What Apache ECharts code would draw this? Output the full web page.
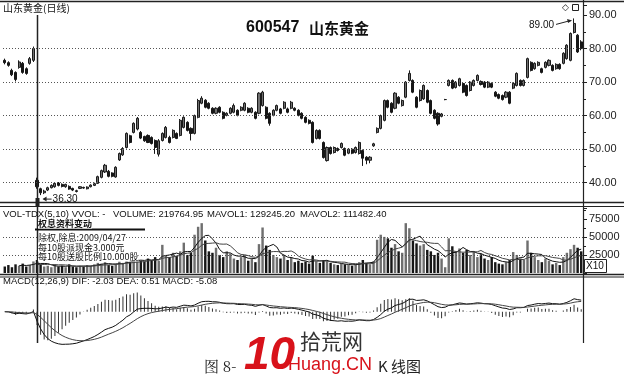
<!DOCTYPE html>
<html><head><meta charset="utf-8">
<script src="https://cdn.jsdelivr.net/npm/echarts@6/dist/echarts.min.js"></script>
<style>html,body{margin:0;padding:0;background:#fff}#c{width:624px;height:382px}</style>
</head><body><div id="c"></div>
<script>
// ---- data ----
const opens  = [76.5,75.8,73.5,72.9,74.4,75.6,74.0,75.6,76.5, 40.7,38.2,37.0,37.8,38.5,38.8,39.9,39.5,38.8,38.9,38.3,37.6,38.3,38.6,38.2,38.8,39.2,39.8,41.6,43.2,43.4,42.9,41.7,46.8,48.3,50.5,54.0,55.0,56.0,55.0,53.8,
54.1,53.5,52.6,48.5,52.6,53.5,53.5,53.5,54.7,54.1,56.5,58.0,56.2,54.7,59.5,63.7,64.6,63.7,62.2,60.7,62.5,61.0,60.1,60.7,61.0,61.6,61.6,61.6,62.2,61.0,
61.0,60.7,63.0,62.5,60.7,60.1,61.6,62.0,62.2,62.0,62.2,62.2,61.6,60.7,59.5,58.6,58.0,53.2,55.6,52.0,46.6,50.5,49.0,50.2,50.5,50.2,48.8,50.0,49.0,48.7,
49.6,47.6,46.7,51.0,55.0,56.2,58.6,64.5,63.7,62.2,65.5,63.0,65.5,70.5,70.5,65.5,64.5,65.0,67.5,64.5,61.6,60.7,59.8,64.8,69.0,70.5,68.4,69.0,69.6,69.0,
67.5,69.0,70.5,70.2,70.0,68.5,69.6,67.0,66.3,66.0,65.5,67.0,68.2,69.0,70.5,69.0,71.4,75.9,74.0,75.0,74.0,74.4,75.0,75.0,74.0,75.3,75.6,77.0,76.5,84.8,84.0,82.0];
const closes = [75.8,75.0,72.2,70.8,76.0,72.9,72.6,77.0,80.0, 38.8,37.0,37.5,38.5,39.2,39.8,39.2,38.9,39.5,38.1,37.8,37.4,38.8,38.4,38.7,39.3,39.7,41.8,43.6,45.2,41.9,41.9,44.6,48.7,50.2,54.7,52.0,57.7,59.2,53.3,52.5,
52.0,51.7,50.5,52.5,54.7,56.5,52.0,55.6,53.2,58.6,59.5,55.6,54.7,60.0,64.5,65.2,62.5,62.2,60.7,62.2,61.0,59.2,60.7,62.2,63.0,60.1,62.5,63.7,61.0,62.2,
59.2,66.7,67.0,59.2,57.7,61.6,63.0,60.7,64.0,61.0,64.0,61.6,60.1,59.2,58.0,57.7,52.0,55.6,53.2,47.5,50.5,48.7,50.5,49.6,51.7,48.2,50.0,48.8,50.5,52.0,
47.3,46.7,47.6,51.6,56.2,60.0,64.5,62.5,61.0,66.7,63.7,64.5,70.0,72.6,67.0,62.5,67.5,69.0,64.0,60.7,59.2,57.5,60.5,64.8,70.5,68.2,70.0,71.0,67.0,66.0,
70.0,70.5,72.0,69.3,68.5,70.0,68.5,65.8,65.2,64.8,67.0,63.7,69.6,72.6,69.0,70.5,77.0,73.5,75.6,75.9,72.9,75.9,76.5,73.5,75.3,74.0,78.6,81.0,84.5,87.5,79.0,80.0];
const lows   = [75.3,74.6,71.8,70.2,74.0,72.5,72.2,75.2,76.0, 38.2,36.3,36.6,37.5,38.3,38.5,38.9,38.6,38.5,37.9,37.5,37.1,38.1,38.2,38.0,38.6,39.0,39.6,41.3,42.9,41.6,41.6,41.5,46.5,48.0,50.2,51.7,54.7,55.6,53.0,52.2,
51.8,51.4,48.6,47.8,52.3,53.2,51.7,53.2,53.0,53.8,56.2,55.3,52.6,54.4,59.2,63.4,62.2,61.9,60.4,60.4,60.7,58.9,59.8,60.4,60.7,59.8,61.3,61.3,60.7,60.7,
58.9,60.4,62.7,58.9,57.0,59.8,61.3,60.4,61.9,60.7,61.9,61.3,59.8,58.9,57.7,57.4,51.7,52.9,52.9,47.2,46.3,48.4,48.7,49.3,50.2,47.9,48.5,48.5,48.7,48.4,
45.0,45.5,45.8,50.7,54.7,55.9,58.3,62.2,60.7,61.9,63.4,62.7,65.2,70.2,66.7,62.2,64.2,64.7,63.7,60.4,58.9,57.0,59.5,64.6,68.7,67.9,68.1,68.7,66.7,65.7,
67.2,68.7,70.2,69.0,68.2,68.2,68.2,65.5,64.9,64.5,65.2,63.4,67.9,68.7,68.7,68.7,71.1,73.2,73.7,74.7,72.6,74.1,74.7,73.2,73.7,73.7,75.3,76.7,76.2,84.5,78.7,79.5];
const highs  = [77.0,76.2,74.0,73.2,76.5,76.0,74.4,77.5,80.6, 41.5,38.5,37.9,38.8,39.5,40.1,40.2,39.8,39.7,39.2,38.5,37.9,39.0,38.8,38.9,39.5,40.0,42.1,43.9,45.6,43.8,43.1,44.9,49.0,50.6,55.0,54.3,58.0,59.6,55.4,54.0,
54.4,53.8,52.9,53.0,55.0,56.9,54.0,55.9,55.0,59.0,59.8,58.3,56.5,60.3,65.0,65.8,64.9,64.0,62.5,62.5,62.8,61.3,61.0,62.5,63.6,61.9,62.8,64.0,62.5,62.5,
61.3,67.0,67.4,62.8,61.0,61.9,63.3,62.3,64.3,62.4,64.4,62.5,61.9,61.0,59.8,58.9,58.3,55.9,55.9,52.3,50.8,50.8,50.8,50.5,52.0,50.5,50.3,50.3,50.8,52.3,
49.9,47.9,47.9,51.9,56.5,60.3,64.8,64.8,64.0,67.0,65.8,64.8,70.3,73.5,70.8,65.8,67.8,69.3,67.8,64.8,61.9,61.0,60.8,65.0,70.8,70.8,70.3,71.3,69.9,69.3,
70.3,70.8,72.3,70.5,70.3,70.3,69.9,67.3,66.6,66.3,67.3,67.3,69.9,72.9,70.8,70.8,77.3,76.2,75.9,76.2,74.3,76.2,76.8,75.3,75.6,75.6,78.9,81.3,84.8,89.0,84.3,82.5];
const volumes = [9000,11000,8000,12000,10000,13000,9000,11000,16000, 18000,12000,9000,10000,8000,11000,9000,10000,8000,12000,9000,8000,10000,9000,11000,10000,12000,14000,13000,15000,11000,10000,13000,16000,14000,18000,15000,20000,19000,17000,16000,
20000,18000,22000,17000,39000,25000,22000,28000,24000,30000,42000,25000,28000,53000,64000,69000,45000,30000,28000,35000,25000,22000,30000,27000,20000,18000,22000,25000,17000,20000,
15000,40000,63000,38000,32000,25000,22000,20000,25000,18000,22000,15000,17000,14000,16000,13000,24000,16000,14000,18000,16000,14000,12000,11000,13000,12000,11000,10000,12000,15000,
18000,14000,12000,16000,46000,53000,50000,48000,35000,40000,30000,28000,69000,62000,45000,41000,38000,40000,32000,30000,25000,28000,20000,8000,48000,37000,30000,34000,28000,32000,
25000,30000,22000,26000,20000,18000,22000,15000,13000,12000,15000,18000,29000,25000,20000,18000,45000,28000,22000,18000,15000,20000,17000,12000,14000,11000,22000,28000,33000,39000,35000,30000];
const priceLevels = [40, 50, 60, 70, 80];
const volumeLevels = [25000, 50000];
const volumeTickLabels = [25000, 50000, 75000];
const exRightsIndex = 9;
const highIndex = 159, highLabel = '89.00', highValue = 89.0;
const lowIndex = 10, lowLabel = '36.30', lowValue = 36.3;

const N = closes.length;
const cats = closes.map((_, i) => String(i));
const kData = closes.map((c, i) => [opens[i], c, lows[i], highs[i]]);

function ma(arr, n) { return arr.map((_, i) => { if (i < n - 1) return '-'; let s = 0; for (let k = i - n + 1; k <= i; k++) s += arr[k]; return +(s / n).toFixed(1); }); }
function ema(arr, n) { const a = 2 / (n + 1); const out = []; arr.forEach((v, i) => out.push(i === 0 ? v : out[i - 1] + a * (v - out[i - 1]))); return out; }
const e12 = ema(closes, 12), e26 = ema(closes, 26);
const dif = e12.map((v, i) => v - e26[i]);
const dea = ema(dif, 9);
const macd = dif.map((v, i) => 2 * (v - dea[i]));
let up = 0, dn = 0;
[dif, dea, macd].forEach(a => a.forEach(v => { up = Math.max(up, v); dn = Math.max(dn, -v); }));
const s = Math.max(up / 23.7, dn / 33.3) * 1.02;

const FF = '"Liberation Sans", Arial, "Noto Sans CJK SC", sans-serif';
const chart = echarts.init(document.getElementById('c'), null, { renderer: 'canvas' });
const xa = g => ({ type: 'category', gridIndex: g, data: cats, show: false, boundaryGap: true });
const upCol = '#6f6f6f', dnCol = '#161616';
chart.setOption({
  animation: false,
  backgroundColor: '#fff',
  grid: [
    { left: 3, right: 41, top: 5, height: 177.7 },
    { left: 3, right: 41, top: 208, height: 65 },
    { left: 3, right: 41, top: 288, height: 57 }
  ],
  xAxis: [xa(0), xa(1), xa(2)],
  yAxis: [
    { type: 'value', gridIndex: 0, position: 'right', min: 40, max: 93, interval: 10,
      axisLine: { show: false }, splitLine: { show: false },
      axisTick: { show: true, length: 4, lineStyle: { color: '#222' } },
      minorTick: { show: true, splitNumber: 2, length: 3, lineStyle: { color: '#222' } },
      axisLabel: { formatter: v => v.toFixed(2), color: '#222', fontSize: 11, margin: 6, fontFamily: FF } },
    { type: 'value', gridIndex: 1, position: 'right', min: 0, max: 90000, interval: 25000,
      axisLine: { show: false }, splitLine: { show: false },
      axisTick: { show: true, length: 4, lineStyle: { color: '#222' } },
      minorTick: { show: true, splitNumber: 2, length: 3, lineStyle: { color: '#222' } },
      axisLabel: { formatter: v => volumeTickLabels.includes(v) ? String(v) : '', color: '#222', fontSize: 11, margin: 6, fontFamily: FF } },
    { type: 'value', gridIndex: 2, min: -s * 33.3, max: s * 23.7, show: false, splitLine: { show: false } }
  ],
  series: [
    { type: 'candlestick', xAxisIndex: 0, yAxisIndex: 0, data: kData, clip: false, barWidth: '72%',
      itemStyle: { color: upCol, color0: dnCol, borderColor: '#1a1a1a', borderColor0: dnCol, borderWidth: 1 },
      markLine: { silent: true, symbol: 'none', label: { show: false }, lineStyle: { type: [1, 2], color: '#555', width: 1 },
        data: priceLevels.map(v => ({ yAxis: v })) } },
    { type: 'bar', xAxisIndex: 1, yAxisIndex: 1, barWidth: '68%',
      data: volumes.map((v, i) => ({ value: v, itemStyle: { color: closes[i] >= opens[i] ? upCol : dnCol } })),
      markLine: { silent: true, symbol: 'none', label: { show: false }, lineStyle: { type: [1, 2], color: '#555', width: 1 },
        data: volumeLevels.map(v => ({ yAxis: v })) } },
    { type: 'line', xAxisIndex: 1, yAxisIndex: 1, data: ma(volumes, 5), symbol: 'none', lineStyle: { color: '#111', width: 1 } },
    { type: 'line', xAxisIndex: 1, yAxisIndex: 1, data: ma(volumes, 10), symbol: 'none', lineStyle: { color: '#444', width: 1 } },
    { type: 'bar', xAxisIndex: 2, yAxisIndex: 2, barWidth: 1, data: macd, itemStyle: { color: '#333' } },
    { type: 'line', xAxisIndex: 2, yAxisIndex: 2, data: dif, symbol: 'none', lineStyle: { color: '#111', width: 1 } },
    { type: 'line', xAxisIndex: 2, yAxisIndex: 2, data: dea, symbol: 'none', lineStyle: { color: '#444', width: 1 } }
  ]
});

const P = (i, v) => chart.convertToPixel({ seriesIndex: 0 }, [i, v]);
const exX = Math.round(P(exRightsIndex, 40)[0]) + 0.5;
const hp = P(highIndex, highValue), lp = P(lowIndex, lowValue);
const T = (text, x, y, font, fill, extra) => Object.assign({ type: 'text', silent: true, z: 50, style: Object.assign({ text, x, y, font, fill: fill || '#111', verticalAlign: 'middle', align: 'left' }, extra || {}) });
const L = (x1, y1, x2, y2, w, c) => ({ type: 'line', silent: true, z: 40, shape: { x1, y1, x2, y2 }, style: { stroke: c || '#222', lineWidth: w || 1 } });
const f9 = '9.5px ' + FF, f10 = '10px ' + FF;
const ax = hp[0] - 3, ay = hp[1] + 2;
const lx = lp[0] + 3, ly = lp[1] + 4;
chart.setOption({ graphic: [
  L(0, 1.5, 624, 1.5, 1.5), L(0, 202.5, 624, 202.5, 1.5), L(0, 206.5, 624, 206.5, 1),
  L(0, 274.5, 624, 274.5, 1.5), L(0, 277, 624, 277, 1),
  L(583.5, 0, 583.5, 343, 1.2),
  L(exX, 15, exX, 343, 1.5, '#222'),
  { type: 'rect', silent: true, z: 41, shape: { x: exX - 2, y: 198, width: 4, height: 8 }, style: { fill: '#222' } },
  T('山东黄金(日线)', 3, 8, '10px "Noto Sans CJK SC", sans-serif'),
  T('600547', 246, 28, 'bold 16px ' + FF),
  T('山东黄金', 309, 28, 'bold 15px "Noto Sans CJK SC", sans-serif'),
  T('◇', 562, 8, '9px "DejaVu Sans", sans-serif'),
  { type: 'rect', silent: true, z: 50, shape: { x: 572.5, y: 4.5, width: 6, height: 6 }, style: { fill: '#fff', stroke: '#222', lineWidth: 1 } },
  L(ax - 15, ay + 4, ax, ay, 1, '#222'),
  { type: 'polygon', silent: true, z: 50, shape: { points: [[ax + 1, ay], [ax - 4, ay - 1.5], [ax - 3, ay + 2.5]] }, style: { fill: '#222' } },
  T(highLabel, ax - 17, ay + 5, f10, '#111', { align: 'right' }),
  L(lx, ly, lx + 8, ly, 1, '#222'),
  { type: 'polygon', silent: true, z: 50, shape: { points: [[lx - 1, ly], [lx + 3, ly - 2.5], [lx + 3, ly + 2.5]] }, style: { fill: '#222' } },
  T(lowLabel, lx + 9, ly, f10),
  T('VOL-TDX(5,10) VVOL: -', 3, 214, f9),
  T('VOLUME: 219764.95', 113, 214, f9),
  T('MAVOL1: 129245.20', 207, 214, f9),
  T('MAVOL2: 111482.40', 300, 214, f9),
  T('权息资料变动', 38, 224, 'bold 9px "Noto Sans CJK SC", sans-serif', '#111', { backgroundColor: '#fff' }),
  L(35, 229.5, 145, 229.5, 2, '#111'),
  T('除权,除息:2009/04/27', 38, 238, '9px "Noto Sans CJK SC", sans-serif', '#111', { backgroundColor: '#fff' }),
  T('每10股派现金3.000元', 38, 247.5, '9px "Noto Sans CJK SC", sans-serif', '#111', { backgroundColor: '#fff' }),
  T('每10股送股比例10.000股', 38, 257, '9px "Noto Sans CJK SC", sans-serif', '#111', { backgroundColor: '#fff' }),
  { type: 'rect', silent: true, z: 50, shape: { x: 584.5, y: 259.5, width: 22, height: 13 }, style: { fill: '#fff', stroke: '#222', lineWidth: 1 } },
  T('X10', 586, 266.5, '10px ' + FF),
  T('MACD(12,26,9) DIF: -2.03 DEA: 0.51 MACD: -5.08', 3, 281, f9),
  T('图 8-', 204, 366, '15px "Noto Serif CJK SC", "Noto Sans CJK SC", serif', '#222'),
  T('10', 244, 356, 'bold italic 46px ' + FF, '#d8121a'),
  T('拾荒网', 300, 341, '21px "Noto Sans CJK SC", sans-serif', '#333'),
  T('Huang.CN', 288, 365, '18px ' + FF, '#d8121a'),
  T('K 线图', 378, 366, '15px "Noto Sans CJK SC", sans-serif', '#222')
] });
</script></body></html>
